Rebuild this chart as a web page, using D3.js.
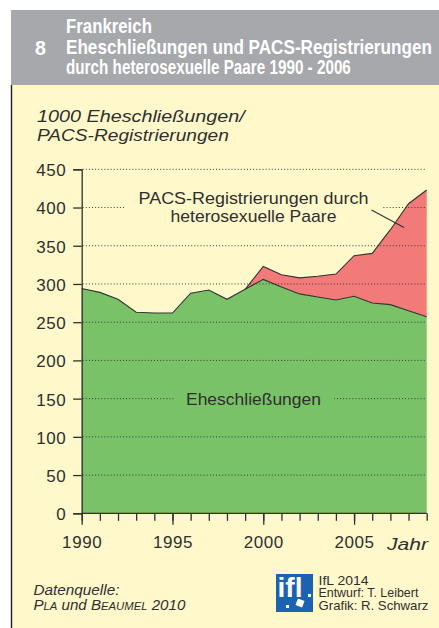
<!DOCTYPE html>
<html>
<head>
<meta charset="utf-8">
<script src="https://cdn.jsdelivr.net/npm/d3@7"></script>
<style>
  html, body { margin: 0; padding: 0; background: #ffffff; }
  svg { display: block; }
  text { font-family: "Liberation Sans", Arial, sans-serif; }
</style>
</head>
<body>
<svg id="chart" width="439" height="628"></svg>
<script>
// ---- data ----
const years = [1990, 1991, 1992, 1993, 1994, 1995, 1996, 1997, 1998, 1999,
               2000, 2001, 2002, 2003, 2004, 2005, 2006, 2007, 2008, 2009];
// Eheschließungen (in 1000)
const marriages = [294, 289, 280, 263, 262, 262, 288, 292, 280, 293,
                   306, 296, 287, 283, 279, 284, 275, 273, 265, 257];
// PACS-Registrierungen heterosexueller Paare (in 1000)
const pacs = [0, 0, 0, 0, 0, 0, 0, 0, 0, 0,
              17, 16, 21, 27, 34, 53, 65, 98, 140, 166];
const pacsFirstYear = 1999;
const yTicks = [0, 50, 100, 150, 200, 250, 300, 350, 400, 450];
const xTickLabels = [1990, 1995, 2000, 2005];

const titleLines = ["Frankreich",
                    "Eheschließungen und PACS-Registrierungen",
                    "durch heterosexuelle Paare 1990 - 2006"];
const chartNumber = "8";

// ---- colours ----
const C = {
  header: "#A7A8AB",
  bg: "#FFF8CB",
  green: "#79C267",
  red: "#F27A78",
  ink: "#2f2f2f"
};

const svg = d3.select("#chart");

// horizontally fit a text element to a target width (scales about its x anchor)
function fit(t, w) {
  const n = t.node().getComputedTextLength();
  if (!n) return t;
  const s = w / n;
  const x0 = +t.attr("x");
  t.attr("transform", `translate(${x0},0) scale(${s},1) translate(${-x0},0)`);
  return t;
}

// background + header
svg.append("rect").attr("x", 0).attr("y", 0).attr("width", 439).attr("height", 628).attr("fill", "#ffffff");
svg.append("rect").attr("x", 11).attr("y", 85).attr("width", 428).attr("height", 543).attr("fill", C.bg);
svg.append("rect").attr("x", 11).attr("y", 10).attr("width", 428).attr("height", 75).attr("fill", C.header);
svg.append("line").attr("x1", 11.5).attr("x2", 11.5).attr("y1", 85).attr("y2", 628)
  .attr("stroke", "#1e1e1e").attr("stroke-width", 1.4);

const headFont = '"Liberation Sans Narrow", "Liberation Sans", Arial, sans-serif';
const headWidths = [86, 366, 285];
const headBase = [33, 54.5, 74.5];
titleLines.forEach((t, i) => {
  const el = svg.append("text").attr("x", 66).attr("y", headBase[i])
    .attr("font-family", headFont).attr("font-weight", "bold").attr("font-size", 19.5)
    .attr("fill", "#ffffff").text(t);
  fit(el, headWidths[i]);
});
svg.append("text").attr("x", 35).attr("y", headBase[1])
  .attr("font-family", headFont).attr("font-weight", "bold").attr("font-size", 19.5)
  .attr("fill", "#ffffff").text(chartNumber);

// y-axis title
fit(svg.append("text").attr("x", 37).attr("y", 122.5)
  .attr("font-style", "italic").attr("font-size", 17).attr("fill", C.ink)
  .text("1000 Eheschließungen/"), 208);
fit(svg.append("text").attr("x", 37).attr("y", 141.5)
  .attr("font-style", "italic").attr("font-size", 17).attr("fill", C.ink)
  .text("PACS-Registrierungen"), 192);

// ---- scales ----
const x = d3.scaleLinear().domain([1990, 2009]).range([81.7, 426.7]);
const y = d3.scaleLinear().domain([0, 450]).range([513.3, 169.3]);

const rows = years.map((yr, i) => ({ year: yr, m: marriages[i], p: pacs[i] }));
const pacsRows = rows.filter(d => d.year >= pacsFirstYear);

// areas
const areaGreen = d3.area().x(d => x(d.year)).y0(y(0)).y1(d => y(d.m));
const areaRed = d3.area().x(d => x(d.year)).y0(d => y(d.m)).y1(d => y(d.m + d.p));

svg.append("path").datum(rows).attr("d", areaGreen).attr("fill", C.green);
svg.append("path").datum(pacsRows).attr("d", areaRed).attr("fill", C.red);

// gridlines (dotted)
const grid = svg.append("g");
yTicks.filter(v => v > 0).forEach(v => {
  grid.append("line").attr("x1", x(1990) + 1).attr("x2", x(2009))
    .attr("y1", y(v)).attr("y2", y(v))
    .attr("stroke", "#3a3a3a").attr("stroke-width", 1)
    .attr("stroke-dasharray", "1,2.1");
});

// outlines on top of the areas
svg.append("path").datum(rows)
  .attr("d", d3.line().x(d => x(d.year)).y(d => y(d.m)))
  .attr("fill", "none").attr("stroke", "#333").attr("stroke-width", 1.1);
svg.append("path").datum(pacsRows)
  .attr("d", d3.line().x(d => x(d.year)).y(d => y(d.m + d.p)))
  .attr("fill", "none").attr("stroke", "#333").attr("stroke-width", 1.1);

// ---- axes ----
const yAxis = d3.axisLeft(y).tickValues(yTicks).tickSize(8.5).tickPadding(7);
const gy = svg.append("g").attr("transform", `translate(${x(1990)},0)`).call(yAxis);
gy.select(".domain").attr("stroke", C.ink).attr("stroke-width", 1.3);
gy.selectAll(".tick line").attr("stroke", C.ink).attr("stroke-width", 1.3);
gy.selectAll(".tick text").attr("font-family", '"Liberation Sans", Arial, sans-serif')
  .attr("font-size", 17).attr("fill", C.ink).attr("letter-spacing", 0.5).attr("dy", "0.38em");

const xAxisMinor = d3.axisBottom(x).tickValues(years).tickSize(7.5).tickFormat("");
const gx = svg.append("g").attr("transform", `translate(0,${y(0)})`).call(xAxisMinor);
gx.select(".domain").attr("stroke", C.ink).attr("stroke-width", 1.3).attr("d", `M${x(1990)},0H${x(2009)}`);
gx.selectAll(".tick line").attr("stroke", C.ink).attr("stroke-width", 1.3);

const xAxisMajor = d3.axisBottom(x).tickValues(xTickLabels).tickSize(11.5).tickPadding(11).tickFormat(d3.format("d"));
const gx2 = svg.append("g").attr("transform", `translate(0,${y(0)})`).call(xAxisMajor);
gx2.select(".domain").remove();
gx2.selectAll(".tick line").attr("stroke", C.ink).attr("stroke-width", 1.3);
gx2.selectAll(".tick text").attr("font-family", '"Liberation Sans", Arial, sans-serif')
  .attr("font-size", 17).attr("fill", C.ink).attr("letter-spacing", 0.6);

fit(svg.append("text").attr("x", 387).attr("y", 550.5)
  .attr("font-style", "italic").attr("font-size", 17).attr("fill", C.ink)
  .text("Jahr"), 41);

// ---- labels ----
// PACS annotation with yellow knock-out box
svg.append("rect").attr("x", 124).attr("y", 189).attr("width", 258).attr("height", 38).attr("fill", C.bg);
fit(svg.append("text").attr("x", 253.5).attr("y", 204.5).attr("text-anchor", "middle")
  .attr("font-size", 16).attr("fill", C.ink)
  .text("PACS-Registrierungen durch"), 230);
fit(svg.append("text").attr("x", 253.5).attr("y", 222.5).attr("text-anchor", "middle")
  .attr("font-size", 16).attr("fill", C.ink)
  .text("heterosexuelle Paare"), 166);
svg.append("line").attr("x1", 371.5).attr("y1", 210).attr("x2", 404).attr("y2", 227.5)
  .attr("stroke", "#333").attr("stroke-width", 1.1);

// Eheschließungen label with green knock-out box
svg.append("rect").attr("x", 174).attr("y", 390).attr("width", 160).attr("height", 20).attr("fill", C.green);
fit(svg.append("text").attr("x", 253.5).attr("y", 405).attr("text-anchor", "middle")
  .attr("font-size", 16).attr("fill", C.ink)
  .text("Eheschließungen"), 135);

// ---- footer ----
fit(svg.append("text").attr("x", 33.5).attr("y", 595)
  .attr("font-style", "italic").attr("font-size", 14).attr("fill", C.ink)
  .text("Datenquelle:"), 86);
const src = svg.append("text").attr("x", 33.5).attr("y", 610.5)
  .attr("font-style", "italic").attr("font-size", 14).attr("fill", C.ink);
src.append("tspan").text("P");
src.append("tspan").attr("font-size", 10.5).text("LA");
src.append("tspan").text(" und B");
src.append("tspan").attr("font-size", 10.5).text("EAUMEL");
src.append("tspan").text(" 2010");
fit(src, 152);

// logo
svg.append("rect").attr("x", 276).attr("y", 574).attr("width", 37).attr("height", 38).attr("fill", "#1B62B0");
fit(svg.append("text").attr("x", 277.5).attr("y", 597.5)
  .attr("font-family", headFont).attr("font-weight", "bold").attr("font-size", 27)
  .attr("fill", "#ffffff").text("ifl"), 25);
svg.append("rect").attr("x", -3.5).attr("y", -3.5).attr("width", 7).attr("height", 7)
  .attr("fill", "#ffffff").attr("transform", "translate(300,603) rotate(20)");
svg.append("rect").attr("x", 286).attr("y", 605).attr("width", 3).attr("height", 3).attr("fill", "#ffffff");
svg.append("rect").attr("x", 308).attr("y", 594).attr("width", 3).attr("height", 3).attr("fill", "#ffffff");

const credits = ["IfL 2014", "Entwurf: T. Leibert", "Grafik: R. Schwarz"];
const creditW = [50, 100, 110];
const creditY = [585, 597.5, 610];
credits.forEach((t, i) => {
  fit(svg.append("text").attr("x", 318.5).attr("y", creditY[i])
    .attr("font-size", 12).attr("fill", C.ink).text(t), creditW[i]);
});
</script>
</body>
</html>
